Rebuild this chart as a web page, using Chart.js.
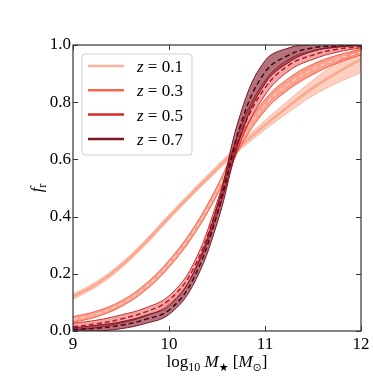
<!DOCTYPE html>
<html><head><meta charset="utf-8">
<script src="https://cdn.jsdelivr.net/npm/chart.js@4.4.0/dist/chart.umd.min.js"></script>
<style>html,body{margin:0;padding:0;background:#fff}canvas{display:block}</style>
</head><body>
<canvas id="c" width="373" height="381"></canvas>
<script>
// ---- data ----
const logMass = [9, 9.25, 9.5, 9.75, 10, 10.25, 10.5, 10.75, 11, 11.25, 11.5, 11.75, 12];
const xTicks = [9, 10, 11, 12];
const yTicks = [0, 0.2, 0.4, 0.6, 0.8, 1.0];
const legendLabels = ['0.1', '0.3', '0.5', '0.7'];

const fr_z01 = [0.12, 0.165, 0.228, 0.308, 0.398, 0.485, 0.568, 0.648, 0.72, 0.787, 0.85, 0.903, 0.95];
const hw_z01 = [0.009, 0.009, 0.009, 0.009, 0.009, 0.009, 0.01, 0.012, 0.016, 0.021, 0.027, 0.036, 0.046];

const fr_z03 = [0.04, 0.06, 0.095, 0.152, 0.235, 0.345, 0.49, 0.665, 0.79, 0.865, 0.915, 0.95, 0.975];
const hw_z03 = [0.01, 0.01, 0.01, 0.011, 0.012, 0.013, 0.015, 0.018, 0.02, 0.02, 0.018, 0.014, 0.01];

const fr_z05 = [0.015, 0.025, 0.042, 0.066, 0.108, 0.215, 0.43, 0.69, 0.85, 0.93, 0.965, 0.985, 0.995];
const hw_z05 = [0.012, 0.013, 0.014, 0.014, 0.015, 0.017, 0.02, 0.025, 0.025, 0.02, 0.015, 0.01, 0.005];

const fr_z07 = [0.005, 0.01, 0.02, 0.04, 0.073, 0.18, 0.405, 0.725, 0.905, 0.965, 0.99, 0.997, 1.0];
const hw_z07 = [0.006, 0.01, 0.012, 0.014, 0.015, 0.02, 0.03, 0.04, 0.04, 0.025, 0.012, 0.005, 0.002];

// ---- styles ----
const SERIF = '"Liberation Serif", "Times New Roman", Times, serif';
const series = [
  {fr: fr_z01, hw: hw_z01, color: '#fbb09a', edge: 'rgba(251,170,148,0.8)', fill: 'rgba(251,176,154,0.6)',
   center: {color: '#fba88e', width: 2.5, dash: []}},
  {fr: fr_z03, hw: hw_z03, color: '#f7654a', edge: '#f7654a', fill: 'rgba(247,101,74,0.62)',
   center: {color: 'rgba(255,215,205,0.85)', width: 1.2, dash: [5, 3]}},
  {fr: fr_z05, hw: hw_z05, color: '#d42a2a', edge: '#d42a2a', fill: 'rgba(212,42,42,0.42)',
   center: {color: '#c0161e', width: 1.5, dash: [5, 3]}},
  {fr: fr_z07, hw: hw_z07, color: '#7d1525', edge: '#7d1525', fill: 'rgba(125,21,37,0.6)',
   center: {color: '#5a0010', width: 1.5, dash: [5, 3]}}
];

const datasets = [];
series.forEach((s, i) => {
  const order = 20 - i * 3;
  const up = logMass.map((x, k) => ({x, y: s.fr[k] + s.hw[k]}));
  const lo = logMass.map((x, k) => ({x, y: s.fr[k] - s.hw[k]}));
  const mid = logMass.map((x, k) => ({x, y: s.fr[k]}));
  const common = {pointRadius: 0, tension: 0.4};
  datasets.push({...common, data: up, borderColor: s.edge, borderWidth: 1, fill: false, order});
  datasets.push({...common, data: lo, borderColor: s.edge, borderWidth: 1, fill: '-1',
    backgroundColor: s.fill, order});
  datasets.push({...common, data: mid, borderColor: s.center.color, borderWidth: s.center.width,
    borderDash: s.center.dash, fill: false, order: order - 1});
});

function font(size, it) { return (it ? 'italic ' : '') + size + 'px ' + SERIF; }
function symFont(size) { return size + 'px "DejaVu Sans", sans-serif'; }

function drawRuns(ctx, runs, x, y, align) {
  let w = 0;
  const setF = r => { ctx.font = r.sym ? symFont(r.sub ? 11 : 17) : font(r.sub ? 12 : 17, r.it); };
  runs.forEach(r => { setF(r); r.w = ctx.measureText(r.t).width; w += r.w; });
  let cx = align === 'center' ? x - w / 2 : x;
  ctx.textBaseline = 'alphabetic';
  ctx.textAlign = 'left';
  runs.forEach(r => {
    setF(r);
    ctx.fillText(r.t, cx, y + (r.sub ? 4 : 0));
    cx += r.w;
  });
}

const decor = {
  id: 'decor',
  afterDatasetsDraw(chart) {
    const {ctx, chartArea: a, scales} = chart;
    ctx.save();
    ctx.strokeStyle = '#333';
    ctx.lineWidth = 1.2;
    ctx.strokeRect(a.left, a.top, a.right - a.left, a.bottom - a.top);
    ctx.lineWidth = 1;
    ctx.beginPath();
    xTicks.forEach(v => {
      const px = Math.round(scales.x.getPixelForValue(v)) + 0.5;
      ctx.moveTo(px, a.bottom); ctx.lineTo(px, a.bottom - 5);
      ctx.moveTo(px, a.top); ctx.lineTo(px, a.top + 5);
    });
    yTicks.forEach(v => {
      const py = Math.round(scales.y.getPixelForValue(v)) + 0.5;
      ctx.moveTo(a.left, py); ctx.lineTo(a.left + 5, py);
      ctx.moveTo(a.right, py); ctx.lineTo(a.right - 5, py);
    });
    ctx.stroke();

    // legend
    const bx = a.left + 9, by = a.top + 9, bw = 110, bh = 101;
    ctx.beginPath();
    ctx.roundRect(bx, by, bw, bh, 3);
    ctx.fillStyle = 'rgba(255,255,255,0.85)';
    ctx.fill();
    ctx.strokeStyle = '#d0d0d0';
    ctx.lineWidth = 1;
    ctx.stroke();
    legendLabels.forEach((lab, i) => {
      const ly = by + 12 + i * 24.3;
      ctx.strokeStyle = series[i].color;
      ctx.lineWidth = 2.5;
      ctx.beginPath();
      ctx.moveTo(bx + 6, ly); ctx.lineTo(bx + 42, ly);
      ctx.stroke();
      ctx.fillStyle = '#000';
      drawRuns(ctx, [{t: 'z', it: true}, {t: ' = ' + lab}], bx + 55, ly + 6, 'left');
    });

    ctx.fillStyle = '#000';
    drawRuns(ctx, [{t: 'log'}, {t: '10', sub: true}, {t: ' '}, {t: 'M', it: true}, {t: '\u2605', sub: true, sym: true},
      {t: ' ['}, {t: 'M', it: true}, {t: '\u2299', sub: true, sym: true}, {t: ']'}],
      (a.left + a.right) / 2, 367, 'center');
    ctx.translate(42, (a.top + a.bottom) / 2);
    ctx.rotate(-Math.PI / 2);
    drawRuns(ctx, [{t: 'f', it: true}, {t: 'r', sub: true}], 0, 0, 'center');
    ctx.restore();
  }
};

function build() {
  new Chart(document.getElementById('c'), {
    type: 'line',
    data: {datasets},
    options: {
      responsive: false,
      animation: false,
      events: [],
      layout: {padding: {top: 45, right: 12, left: 0, bottom: 0}},
      plugins: {legend: {display: false}, tooltip: {enabled: false}},
      scales: {
        x: {
          type: 'linear', min: 9, max: 12,
          grid: {display: false, drawTicks: false},
          border: {display: false},
          afterBuildTicks: s => { s.ticks = xTicks.map(v => ({value: v})); },
          ticks: {font: {family: SERIF, size: 17}, color: '#000', padding: 3, maxRotation: 0,
            callback: v => String(v)},
          afterFit: s => { s.height = 50; s.paddingLeft = 0; s.paddingRight = 0; }
        },
        y: {
          type: 'linear', min: 0, max: 1,
          grid: {display: false, drawTicks: false},
          border: {display: false},
          afterBuildTicks: s => { s.ticks = yTicks.map(v => ({value: v})); },
          ticks: {font: {family: SERIF, size: 17}, color: '#000', padding: 2,
            callback: v => v.toFixed(1)},
          afterFit: s => { s.width = 73; s.paddingTop = 0; s.paddingBottom = 0; }
        }
      }
    },
    plugins: [decor]
  });
}

Promise.all([
  document.fonts.load('17px "Liberation Serif"'),
  document.fonts.load('italic 17px "Liberation Serif"')
]).then(build, build);
</script>
</body></html>
